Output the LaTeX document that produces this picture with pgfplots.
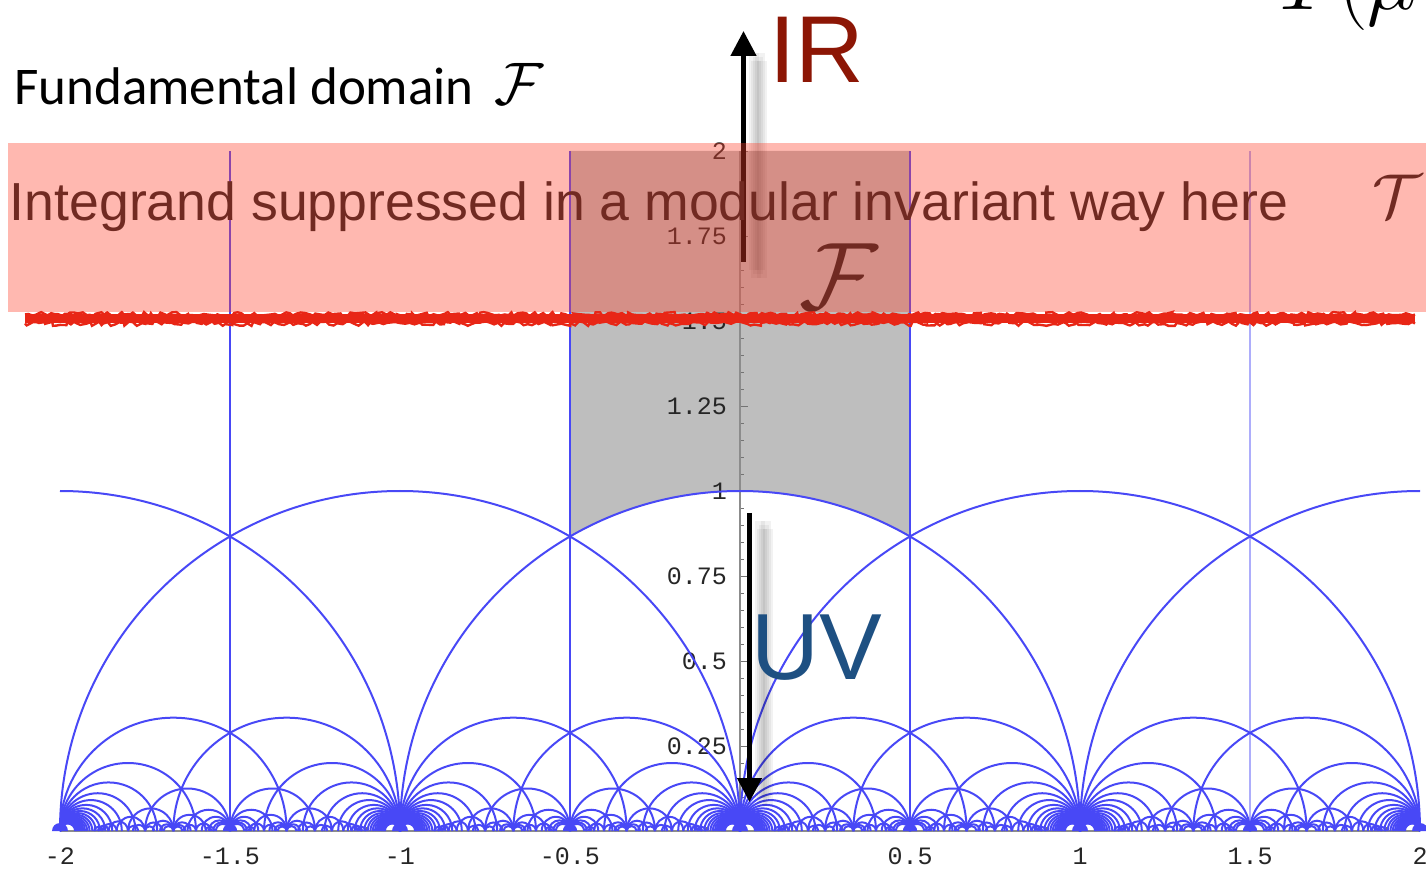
\RequirePackage{fix-cm}
\documentclass[border=0pt]{standalone}
\usepackage{fontspec}
\usepackage{pgfplots}
\pgfplotsset{compat=1.18}
\usepackage{pgfplotstable}
\usetikzlibrary{arrows.meta,decorations.pathmorphing}
\setmonofont{Liberation Mono}
\newfontfamily\carlito{Carlito}
\newfontfamily\lsans{Liberation Sans}
\definecolor{fblue}{RGB}{72,72,246}
\definecolor{domgray}{RGB}{190,190,190}
\definecolor{pinkc}{RGB}{255,63,41}
\definecolor{irred}{RGB}{140,22,5}
\definecolor{uvblue}{RGB}{30,80,130}
\definecolor{redline}{RGB}{232,38,22}

\pgfdeclareplotmark{semicirc}{%
  \pgfpathmoveto{\pgfqpoint{\pgfplotmarksize}{0pt}}%
  \pgfpatharc{0}{180}{\pgfplotmarksize}%
  \pgfusepathqstroke}
\pgfdeclareplotmark{semidisc}{%
  \pgfpathmoveto{\pgfqpoint{\pgfplotmarksize}{0pt}}%
  \pgfpatharc{0}{180}{\pgfplotmarksize}%
  \pgfpathclose
  \pgfusepathqfill}
\pgfdeclareplotmark{qright}{%
  \pgfpathmoveto{\pgfqpoint{\pgfplotmarksize}{0pt}}%
  \pgfpatharc{0}{90}{\pgfplotmarksize}%
  \pgfusepathqstroke}
\pgfdeclareplotmark{qleft}{%
  \pgfpathmoveto{\pgfqpoint{0pt}{\pgfplotmarksize}}%
  \pgfpatharc{90}{180}{\pgfplotmarksize}%
  \pgfusepathqstroke}

% geodesics of the tessellation with both ends in [0,1/2]: centre c, radius r
\pgfplotstableread{
c r
0.333333 0.333333
0.2 0.2
0.142857 0.142857
0.111111 0.111111
0.0909091 0.0909091
0.0769231 0.0769231
0.0666667 0.0666667
0.0588235 0.0588235
0.0526316 0.0526316
0.047619 0.047619
0.0434783 0.0434783
0.04 0.04
0.037037 0.037037
0.0344828 0.0344828
0.0322581 0.0322581
0.030303 0.030303
0.0285714 0.0285714
0.027027 0.027027
0.025641 0.025641
0.0243902 0.0243902
0.0232558 0.0232558
0.0222222 0.0222222
0.375 0.125
0.4375 0.0625
0.458333 0.0416667
0.46875 0.03125
0.475 0.025
0.479167 0.0208333
0.266667 0.0666667
0.380952 0.047619
0.303030 0.030303
0.358974 0.025641
0.313725 0.0196078
0.350877 0.0175439
0.318841 0.0144928
0.346667 0.0133333
0.171429 0.0285714
0.215385 0.0153846
0.422222 0.0222222
0.381818 0.0181818
0.126984 0.015873
0.441558 0.012987
0.208333 0.0416667
0.275 0.025
0.232143 0.0178571
0.263889 0.0138889
0.145833 0.0208333
0.1125 0.0125
}\halftab

\pgfplotsset{
 geo/.style={only marks, mark=semicirc, color=fblue,
   mark options={solid, line width=1.0pt}, forget plot},
}

\begin{document}
\begin{tikzpicture}
\begin{axis}[
  x=170pt, y=170pt, xmin=-2, xmax=2, ymin=0, ymax=2,
  axis lines=middle, axis on top,
  axis line style={-, draw=black!45, line width=0.6pt},
  xtick={-2,-1.5,-1,-0.5,0.5,1,1.5,2},
  xticklabels={-2,-1.5,-1,-0.5,0.5,1,1.5,2},
  ytick={0.25,0.5,0.75,1,1.25,1.5,1.75,2},
  yticklabels={0.25,0.5,0.75,1,1.25,1.5,1.75,2},
  minor xtick={-1.9,-1.8,...,1.9},
  minor ytick={0.05,0.1,...,1.95},
  tick align=inside,
  major tick length=4pt, minor tick length=2pt,
  tick style={black!55, line width=0.4pt},
  ticklabel style={font=\ttfamily\fontsize{12.5}{13}\selectfont, text=black!85},
  xticklabel style={anchor=north, yshift=-5pt},
  yticklabel style={anchor=east, xshift=-3pt},
]
\addplot[fill=domgray, draw=none, forget plot] coordinates {(-0.5,2) (-0.5,0.866025) (-0.4,0.916515) (-0.3,0.953939) (-0.2,0.979796) (-0.1,0.994987) (0,1) (0.1,0.994987) (0.2,0.979796) (0.3,0.953939) (0.4,0.916515) (0.5,0.866025) (0.5,2)} -- cycle;
\pgfplotstablegetrowsof{\halftab}
\pgfmathtruncatemacro\nrows{\pgfplotsretval-1}
\pgfplotsforeachungrouped \k in {-2,-1,0,1}{%
  \pgfplotsforeachungrouped \i in {0,...,\nrows}{%
    \pgfplotstablegetelem{\i}{c}\of\halftab
    \pgfmathsetmacro\xa{\k+\pgfplotsretval}%
    \pgfmathsetmacro\xb{\k+1-\pgfplotsretval}%
    \pgfplotstablegetelem{\i}{r}\of\halftab
    \pgfmathsetmacro\ms{\pgfplotsretval*170}%
    \edef\doplot{\noexpand\addplot[geo, mark size=\ms pt] coordinates {(\xa,0) (\xb,0)};}%
    \doplot
  }%
}
% circles of radius 1 about the integers
\addplot[geo, mark size=170pt] coordinates {(-1,0) (0,0) (1,0)};
\addplot[geo, mark=qright, mark size=170pt] coordinates {(-2,0)};
\addplot[geo, mark=qleft, mark size=170pt] coordinates {(2,0)};
% dense fans closing in on the cusps
\addplot[only marks, mark=semidisc, fblue, mark size=4pt, forget plot] coordinates {(-2,0) (-1,0) (0,0) (1,0) (2,0)};
\addplot[only marks, mark=semidisc, fblue, mark size=3.6pt, forget plot] coordinates {(-1.5,0) (-0.5,0) (0.5,0) (1.5,0)};
% vertical geodesics
\addplot[fblue, line width=1.0pt, forget plot] coordinates {(-1.5,0) (-1.5,2)};
\addplot[fblue, line width=1.0pt, forget plot] coordinates {(-0.5,0) (-0.5,2)};
\addplot[fblue, line width=1.0pt, forget plot] coordinates {(0.5,0) (0.5,2)};
\addplot[fblue!45, line width=1.4pt, forget plot] coordinates {(1.5,0) (1.5,2)};
\coordinate (O) at (axis cs:0,0);
\end{axis}
\begin{scope}[shift={(O)}, x=0.5pt, y=-0.5pt, shift={(-740,-831)}]
  % soft shadow of the up arrow
  \foreach \dx/\dy in {10/8,14/12,18/16,12/16,16/8}{
    \draw[black, draw opacity=0.05, line width=5pt, shift={(\dx,\dy)}] (743.5,262) -- (743.5,45);}
  % items beneath the pink band
  \draw[line width=2.35pt, -{Triangle[length=12.5pt, width=12.5pt]}] (743.5,262) -- (743.5,31);
  \node[anchor=base west, inner sep=0, font=\lsans\fontsize{26.8}{30}\selectfont, text=black!88] at (9.5,221) {Integrand suppressed in a modular invariant way here};
  \node[anchor=base west, inner sep=0, text=black!88] at (799,310) {\fontsize{48}{50}\selectfont$\mathcal{F}$};
  \node[anchor=base west, inner sep=0, text=black!88] at (1372,218) {\fontsize{31}{33}\selectfont$\mathcal{T}$};
  % pink band
  \fill[pinkc, fill opacity=0.37] (8,143) rectangle (1426,312);
  % red rough line
  \pgfmathsetseed{7}
  \draw[redline, line width=4.5pt] (25,319) -- (1415,319);
  \draw[redline, line width=1.2pt, decorate, decoration={random steps, segment length=1.8pt, amplitude=1.2pt}] (25,314.5) -- (1415,314.5);
  \draw[redline, line width=1.2pt, decorate, decoration={random steps, segment length=1.8pt, amplitude=1.2pt}] (25,323.5) -- (1415,323.5);
  % shadow of the down arrow
  \foreach \dx/\dy in {10/8,14/12,18/16,12/16,16/8}{
    \draw[black, draw opacity=0.05, line width=5pt, shift={(\dx,\dy)}] (749.5,513) -- (749.5,790);}
  % down arrow
  \draw[line width=2.3pt, -{Triangle[length=12pt, width=12pt]}] (749.5,513) -- (749.5,802);
  % labels
  \node[anchor=base west, inner sep=0, font=\lsans\fontsize{47.5}{50}\selectfont, text=irred] at (769,83) {IR};
  \node[anchor=base west, inner sep=0, font=\lsans\fontsize{47}{50}\selectfont, text=uvblue] at (751,679) {UV};
  \node[anchor=base west, inner sep=0, font=\carlito\fontsize{26.5}{30}\selectfont] at (14,105) {Fundamental domain\, {\fontsize{30}{34}\selectfont$\mathcal{F}$}};
  \node[anchor=base west, inner sep=0] at (1278,10) {\fontsize{42}{44}\selectfont$T(\mu$};
  \coordinate (BB1) at (0,0);
  \coordinate (BB2) at (1426,869);
\end{scope}
\pgfresetboundingbox
\path[use as bounding box] (BB1) rectangle (BB2);
\end{tikzpicture}
\end{document}
